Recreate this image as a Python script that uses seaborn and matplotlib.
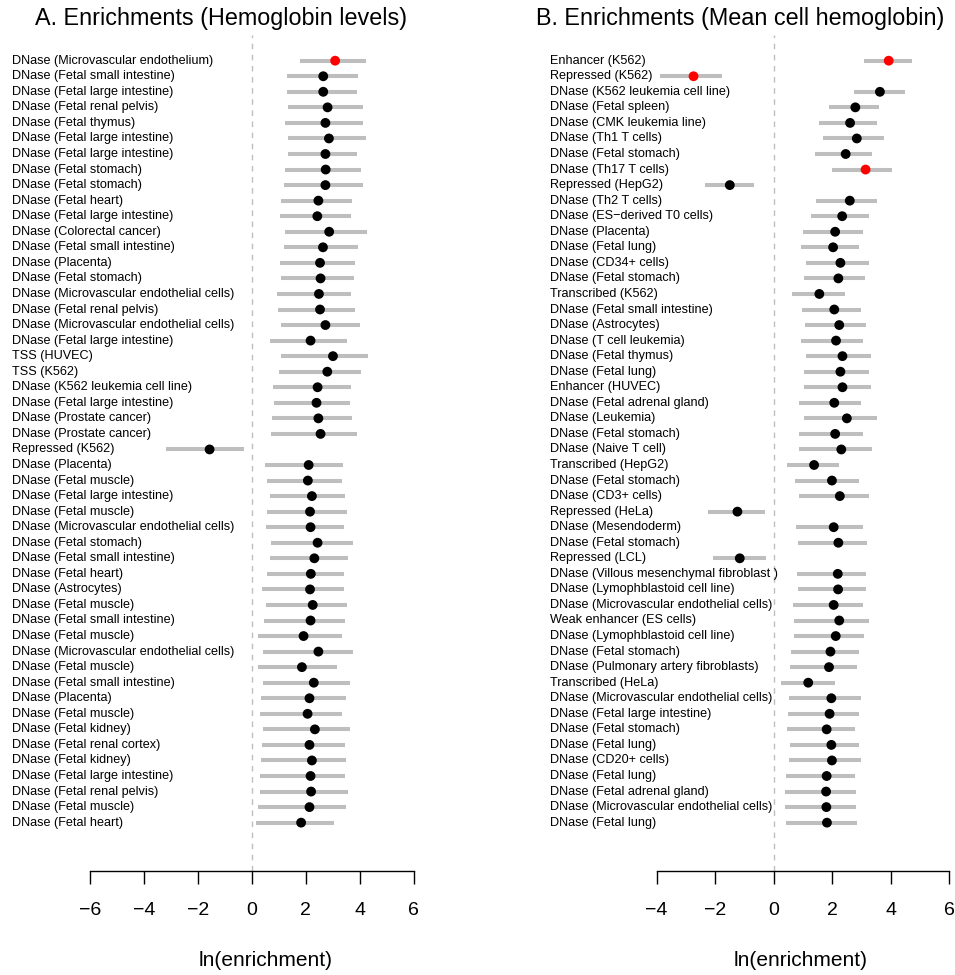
import matplotlib
matplotlib.use("Agg")
import matplotlib.pyplot as plt
import seaborn as sns
import pandas as pd

# ---- Panel A: hemoglobin levels ----
a_labels = [
    "DNase (Microvascular endothelium)", "DNase (Fetal small intestine)",
    "DNase (Fetal large intestine)", "DNase (Fetal renal pelvis)",
    "DNase (Fetal thymus)", "DNase (Fetal large intestine)",
    "DNase (Fetal large intestine)", "DNase (Fetal stomach)",
    "DNase (Fetal stomach)", "DNase (Fetal heart)",
    "DNase (Fetal large intestine)", "DNase (Colorectal cancer)",
    "DNase (Fetal small intestine)", "DNase (Placenta)",
    "DNase (Fetal stomach)", "DNase (Microvascular endothelial cells)",
    "DNase (Fetal renal pelvis)", "DNase (Microvascular endothelial cells)",
    "DNase (Fetal large intestine)", "TSS (HUVEC)", "TSS (K562)",
    "DNase (K562 leukemia cell line)", "DNase (Fetal large intestine)",
    "DNase (Prostate cancer)", "DNase (Prostate cancer)", "Repressed (K562)",
    "DNase (Placenta)", "DNase (Fetal muscle)", "DNase (Fetal large intestine)",
    "DNase (Fetal muscle)", "DNase (Microvascular endothelial cells)",
    "DNase (Fetal stomach)", "DNase (Fetal small intestine)",
    "DNase (Fetal heart)", "DNase (Astrocytes)", "DNase (Fetal muscle)",
    "DNase (Fetal small intestine)", "DNase (Fetal muscle)",
    "DNase (Microvascular endothelial cells)", "DNase (Fetal muscle)",
    "DNase (Fetal small intestine)", "DNase (Placenta)", "DNase (Fetal muscle)",
    "DNase (Fetal kidney)", "DNase (Fetal renal cortex)", "DNase (Fetal kidney)",
    "DNase (Fetal large intestine)", "DNase (Fetal renal pelvis)",
    "DNase (Fetal muscle)", "DNase (Fetal heart)",
]
a_est = [3.09, 2.65, 2.65, 2.81, 2.73, 2.86, 2.73, 2.74, 2.73, 2.47,
         2.43, 2.87, 2.64, 2.53, 2.55, 2.49, 2.53, 2.73, 2.18, 3.01,
         2.80, 2.44, 2.40, 2.47, 2.55, -1.56, 2.11, 2.08, 2.23, 2.16,
         2.18, 2.44, 2.32, 2.19, 2.16, 2.26, 2.18, 1.92, 2.47, 1.86,
         2.30, 2.14, 2.07, 2.34, 2.14, 2.23, 2.18, 2.20, 2.14, 1.83]
a_lo = [1.78, 1.29, 1.29, 1.36, 1.24, 1.35, 1.35, 1.25, 1.20, 1.09,
        1.04, 1.24, 1.21, 1.05, 1.09, 0.92, 0.98, 1.07, 0.69, 1.10,
        1.01, 0.79, 0.82, 0.74, 0.72, -3.17, 0.50, 0.55, 0.67, 0.55,
        0.52, 0.72, 0.66, 0.58, 0.38, 0.53, 0.46, 0.25, 0.41, 0.25,
        0.42, 0.35, 0.29, 0.43, 0.37, 0.33, 0.31, 0.31, 0.24, 0.16]
a_hi = [4.24, 3.93, 3.89, 4.14, 4.11, 4.24, 3.89, 4.04, 4.11, 3.71,
        3.68, 4.26, 3.93, 3.84, 3.80, 3.68, 3.84, 4.01, 3.52, 4.31,
        4.04, 3.67, 3.64, 3.73, 3.89, -0.30, 3.37, 3.33, 3.46, 3.52,
        3.42, 3.74, 3.58, 3.40, 3.40, 3.52, 3.44, 3.33, 3.77, 3.17,
        3.64, 3.48, 3.33, 3.63, 3.47, 3.49, 3.47, 3.57, 3.49, 3.06]
a_highlight = [0]

# ---- Panel B: mean cell hemoglobin ----
b_labels = [
    "Enhancer (K562)", "Repressed (K562)", "DNase (K562 leukemia cell line)",
    "DNase (Fetal spleen)", "DNase (CMK leukemia line)", "DNase (Th1 T cells)",
    "DNase (Fetal stomach)", "DNase (Th17 T cells)", "Repressed (HepG2)",
    "DNase (Th2 T cells)", "DNase (ES\u2212derived T0 cells)", "DNase (Placenta)",
    "DNase (Fetal lung)", "DNase (CD34+ cells)", "DNase (Fetal stomach)",
    "Transcribed (K562)", "DNase (Fetal small intestine)", "DNase (Astrocytes)",
    "DNase (T cell leukemia)", "DNase (Fetal thymus)", "DNase (Fetal lung)",
    "Enhancer (HUVEC)", "DNase (Fetal adrenal gland)", "DNase (Leukemia)",
    "DNase (Fetal stomach)", "DNase (Naive T cell)", "Transcribed (HepG2)",
    "DNase (Fetal stomach)", "DNase (CD3+ cells)", "Repressed (HeLa)",
    "DNase (Mesendoderm)", "DNase (Fetal stomach)", "Repressed (LCL)",
    "DNase (Villous mesenchymal fibroblast )", "DNase (Lymophblastoid cell line)",
    "DNase (Microvascular endothelial cells)", "Weak enhancer (ES cells)",
    "DNase (Lymophblastoid cell line)", "DNase (Fetal stomach)",
    "DNase (Pulmonary artery fibroblasts)", "Transcribed (HeLa)",
    "DNase (Microvascular endothelial cells)", "DNase (Fetal large intestine)",
    "DNase (Fetal stomach)", "DNase (Fetal lung)", "DNase (CD20+ cells)",
    "DNase (Fetal lung)", "DNase (Fetal adrenal gland)",
    "DNase (Microvascular endothelial cells)", "DNase (Fetal lung)",
]
b_est = [3.93, -2.74, 3.63, 2.79, 2.61, 2.84, 2.46, 3.14, -1.50, 2.60,
         2.34, 2.10, 2.03, 2.28, 2.21, 1.56, 2.07, 2.24, 2.13, 2.35,
         2.28, 2.35, 2.07, 2.50, 2.10, 2.31, 1.38, 1.99, 2.26, -1.24,
         2.05, 2.21, -1.16, 2.19, 2.20, 2.05, 2.24, 2.12, 1.94, 1.89,
         1.18, 1.97, 1.91, 1.81, 1.97, 1.99, 1.81, 1.79, 1.80, 1.82]
b_lo = [3.10, -3.89, 2.76, 1.88, 1.56, 1.69, 1.41, 2.00, -2.35, 1.46,
        1.26, 0.99, 0.94, 1.10, 1.04, 0.64, 0.98, 1.07, 0.95, 1.09,
        1.04, 1.04, 0.86, 1.02, 0.86, 0.86, 0.44, 0.74, 0.87, -2.25,
        0.75, 0.82, -2.09, 0.80, 0.82, 0.66, 0.71, 0.71, 0.59, 0.57,
        0.24, 0.51, 0.50, 0.44, 0.57, 0.53, 0.43, 0.38, 0.39, 0.42]
b_hi = [4.72, -1.77, 4.50, 3.61, 3.52, 3.77, 3.35, 4.04, -0.66, 3.52,
        3.26, 3.04, 2.92, 3.26, 3.12, 2.45, 2.97, 3.15, 3.06, 3.32,
        3.24, 3.31, 2.98, 3.54, 3.04, 3.37, 2.24, 2.92, 3.25, -0.30,
        3.04, 3.18, -0.27, 3.14, 3.15, 3.04, 3.27, 3.08, 2.90, 2.84,
        2.09, 2.97, 2.91, 2.79, 2.91, 2.97, 2.79, 2.81, 2.81, 2.83]
b_highlight = [0, 1, 7]

a_ticks = [-6, -4, -2, 0, 2, 4, 6]
b_ticks = [-4, -2, 0, 2, 4, 6]

titles = ["A. Enrichments (Hemoglobin levels)",
          "B. Enrichments (Mean cell hemoglobin)"]
xlabel = "ln(enrichment)"

sns.set_style("white")
plt.rcParams["font.family"] = ["Liberation Sans", "DejaVu Sans"]
plt.rcParams["text.color"] = "black"
plt.rcParams["xtick.color"] = "black"
plt.rcParams["xtick.labelcolor"] = "black"

W, H = 955, 975
fig = plt.figure(figsize=(W / 100, H / 100), dpi=100)


def px_box(x0, x1, ytop, ybot):
    return [x0 / W, 1 - ybot / H, (x1 - x0) / W, (ybot - ytop) / H]


ROW0, ROWSTEP = 60.7, 15.55
AX_TOP, AX_BOT = 30, 870.5


def panel(box, xlim, label_x, labels, est, lo, hi, hl, ticks,
          title, title_x, xlabel_x):
    ax = fig.add_axes(px_box(*box))
    rows = list(range(len(labels)))
    df = pd.DataFrame({"est": est, "row": rows,
                       "hl": [i in hl for i in rows]})
    ax.hlines(rows, lo, hi, color="#BEBEBE", lw=2.9, capstyle="butt",
              zorder=1)
    sns.scatterplot(data=df, x="est", y="row", hue="hl",
                    palette={False: "black", True: "#FF0000"},
                    s=50, linewidth=0, legend=False, ax=ax, zorder=3)
    ax.set_xlim(*xlim)
    ymin = (AX_BOT - ROW0) / ROWSTEP
    ymax = (AX_TOP - ROW0) / ROWSTEP
    ax.set_ylim(ymin, ymax)
    ax.axvline(0, ymin=0, ymax=(AX_BOT - 35) / (AX_BOT - AX_TOP),
               color="#BEBEBE", lw=1.0, ls=(0, (4, 4)), zorder=0)
    for r, t in zip(rows, labels):
        ax.text(label_x, r, t, ha="left", va="center", fontsize=9.1,
                color="black")
    for s in ["top", "right", "left"]:
        ax.spines[s].set_visible(False)
    ax.spines["bottom"].set_bounds(ticks[0], ticks[-1])
    ax.spines["bottom"].set_linewidth(1.0)
    ax.spines["bottom"].set_color("black")
    ax.set_xticks(ticks)
    ax.set_xticklabels([str(t).replace("-", "\u2212") for t in ticks])
    ax.tick_params(axis="x", direction="out", length=9.5, width=1.0,
                   pad=13, labelsize=14, colors="black", bottom=True)
    ax.set_yticks([])
    ax.set_xlabel("")
    ax.set_ylabel("")
    fig.text(title_x / W, 1 - 25 / H, title, ha="center", va="baseline",
             fontsize=16.8, color="black")
    fig.text(xlabel_x / W, 1 - 966 / H, xlabel, ha="center",
             va="baseline", fontsize=15, color="black")
    return ax


def xl(x0, x1, zero, unit):
    return ((x0 - zero) / unit, (x1 - zero) / unit)


a_box = (10, 430, AX_TOP, AX_BOT)
b_box = (545, 952, AX_TOP, AX_BOT)
a_zero, a_unit = 251.7, 27.0
b_zero, b_unit = 773.7, 29.26

panel(a_box, xl(10, 430, a_zero, a_unit), (12.3 - a_zero) / a_unit,
      a_labels, a_est, a_lo, a_hi, a_highlight, a_ticks,
      titles[0], 221.5, 265.5)
panel(b_box, xl(545, 952, b_zero, b_unit), (550 - b_zero) / b_unit,
      b_labels, b_est, b_lo, b_hi, b_highlight, b_ticks,
      titles[1], 740, 801)

fig.savefig("out.png", dpi=100, facecolor="white")
